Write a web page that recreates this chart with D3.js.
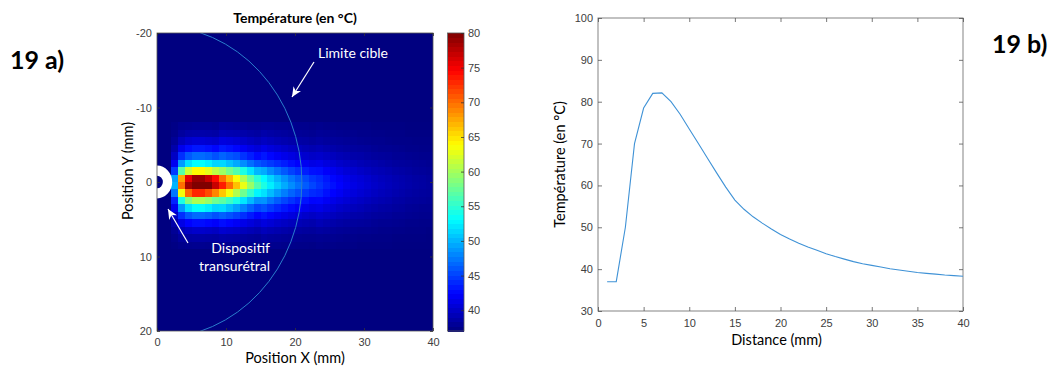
<!DOCTYPE html>
<html><head><meta charset="utf-8">
<script src="https://cdn.jsdelivr.net/npm/d3@7"></script>
<style>body{margin:0;background:#fff} svg{display:block}</style>
</head><body><svg id="c" width="1053" height="369"></svg>
<script>
// ---------- data ----------
const xTicksA = [0, 10, 20, 30, 40];
const yTicksA = [-20, -10, 0, 10, 20];
const cbTicks = [40, 45, 50, 55, 60, 65, 70, 75, 80];
const colorDomain = [37, 80];
const background = 37;
const firstRow = -8;           // y index (mm) of first stored row; columns are x = 0..39 mm
const heatRows = [
 [37,37,37.3,37.7,37.8,37.9,37.9,37.9,37.8,38.2,38.1,38.0,37.9,37.8,37.8,37.9,37.9,37.8,37.8,37.7,37.6,37.6,37.5,37.6,37.5,37.5,37.4,37.4,37.3,37.3,37.3,37.2,37.2,37.2,37.2,37.2,37.1,37.1,37.1,37.1],
 [37,37,37.5,38.3,38.7,38.8,38.8,38.7,38.6,39.2,39.1,39.0,38.8,38.6,38.4,38.8,38.6,38.4,38.3,38.1,38.0,37.9,37.8,38.0,37.9,37.8,37.7,37.6,37.6,37.5,37.5,37.4,37.4,37.3,37.3,37.3,37.2,37.2,37.2,37.2],
 [37,37,38.0,39.6,40.3,40.6,40.6,40.4,40.2,41.0,40.8,40.5,40.1,39.7,39.4,39.8,39.5,39.2,39.0,38.8,38.6,38.5,38.3,38.5,38.3,38.2,38.1,38.0,37.9,37.8,37.7,37.6,37.6,37.5,37.4,37.4,37.4,37.3,37.3,37.3],
 [37,37,38.8,41.6,42.8,43.3,43.3,43.0,42.6,43.4,43.0,42.6,41.9,41.3,40.8,41.4,40.9,40.5,40.2,39.8,39.6,39.3,39.1,39.3,39.0,38.8,38.6,38.4,38.3,38.2,38.1,37.9,37.8,37.8,37.7,37.6,37.5,37.5,37.4,37.4],
 [37,37,39.9,44.3,46.1,46.9,46.9,46.5,45.8,46.6,46.0,45.6,44.5,43.6,42.7,43.3,42.6,42.0,41.5,41.1,40.7,40.3,40.0,40.2,39.9,39.6,39.3,39.1,38.8,38.7,38.5,38.3,38.2,38.1,37.9,37.9,37.8,37.7,37.6,37.6],
 [37,37,41.7,48.9,51.9,53.2,53.2,52.5,51.4,51.5,50.5,49.5,48.3,47.0,45.9,45.3,44.7,44.1,43.5,42.9,42.3,41.8,41.3,41.5,41.0,40.6,40.2,39.9,39.6,39.3,39.1,38.9,38.7,38.5,38.3,38.2,38.1,38.0,37.9,37.8],
 [37,37,44.8,56.8,61.9,64.0,64.0,62.8,61.0,59.8,58.0,56.5,54.2,52.0,50.1,49.6,48.2,47.1,46.1,45.1,44.3,43.6,43.0,42.9,42.2,41.7,41.2,40.7,40.4,40.0,39.7,39.4,39.2,39.0,38.7,38.6,38.4,38.2,38.1,38.0],
 [37,37,49.1,67.7,75.6,78.9,78.9,77.0,74.2,69.9,66.7,63.6,60.4,57.4,54.8,53.1,51.4,49.9,48.6,47.4,46.4,45.5,44.6,44.1,43.3,42.6,42.1,41.5,41.0,40.7,40.3,39.9,39.6,39.4,39.1,38.9,38.7,38.5,38.4,38.2],
 [37,37,50,70,78.5,82,82.1,80,77,73.5,70,66.5,63,59.6,56.5,54.3,52.5,51,49.6,48.3,47.2,46.2,45.3,44.5,43.7,43,42.4,41.8,41.3,40.9,40.5,40.1,39.8,39.5,39.2,39,38.8,38.6,38.45,38.3],
 [37,37,47.4,63.4,70.2,73.0,73.0,71.4,69.0,66.2,63.4,60.6,57.8,55.2,52.8,51.9,50.3,48.9,47.7,46.6,45.7,44.8,44.1,43.8,43.0,42.4,41.9,41.3,40.9,40.5,40.2,39.8,39.5,39.3,39.0,38.8,38.6,38.4,38.3,38.2],
 [37,37,43.8,54.2,58.6,60.4,60.4,59.4,57.8,57.0,55.6,54.1,52.1,50.2,48.5,48.6,47.3,46.2,45.3,44.5,43.7,43.1,42.5,42.6,42.0,41.4,41.0,40.6,40.2,39.9,39.6,39.3,39.1,38.9,38.6,38.5,38.3,38.2,38.1,38.0],
 [37,37,41.7,48.9,51.9,53.2,53.2,52.5,51.4,51.6,50.4,49.2,47.9,46.5,45.3,45.8,44.8,44.0,43.3,42.7,42.1,41.6,41.2,41.4,40.9,40.5,40.1,39.8,39.5,39.3,39.0,38.8,38.6,38.5,38.3,38.2,38.0,37.9,37.8,37.8],
 [37,37,39.9,44.3,46.1,46.9,46.9,46.5,45.8,46.4,45.8,45.1,44.3,43.4,42.5,43.1,42.5,41.9,41.4,41.0,40.6,40.2,39.9,40.2,39.9,39.6,39.3,39.1,38.8,38.7,38.5,38.3,38.2,38.1,37.9,37.9,37.8,37.7,37.6,37.6],
 [37,37,38.7,41.3,42.4,42.9,42.9,42.6,42.2,42.9,42.5,42.0,41.4,40.9,40.4,41.0,40.6,40.2,39.9,39.6,39.3,39.1,38.9,39.3,39.0,38.8,38.6,38.4,38.3,38.2,38.1,37.9,37.8,37.8,37.7,37.6,37.5,37.5,37.4,37.4],
 [37,37,37.9,39.3,39.9,40.2,40.2,40.0,39.8,40.4,40.2,40.0,39.6,39.3,39.0,39.5,39.2,39.0,38.8,38.6,38.4,38.3,38.2,38.4,38.3,38.1,38.0,37.9,37.8,37.7,37.7,37.6,37.5,37.5,37.4,37.4,37.3,37.3,37.3,37.2],
 [37,37,37.5,38.2,38.5,38.6,38.6,38.5,38.4,38.7,38.6,38.5,38.3,38.1,38.0,38.4,38.2,38.1,38.0,37.9,37.8,37.7,37.7,37.8,37.7,37.7,37.6,37.5,37.5,37.4,37.4,37.3,37.3,37.3,37.2,37.2,37.2,37.2,37.2,37.1],
 [37,37,37.2,37.5,37.6,37.7,37.7,37.6,37.6,37.8,37.8,37.7,37.7,37.6,37.5,37.7,37.6,37.6,37.5,37.5,37.4,37.4,37.3,37.5,37.4,37.4,37.3,37.3,37.3,37.2,37.2,37.2,37.2,37.2,37.1,37.1,37.1,37.1,37.1,37.1]
];
const targetRadius = 21;       // mm, "Limite cible"
const deviceOuter = 2.2, deviceInner = 0.85;   // mm

const distance = [1,2,3,4,5,6,7,8,9,10,11,12,13,14,15,16,17,18,19,20,21,22,23,24,25,26,27,28,29,30,31,32,33,34,35,36,37,38,39,40];
const temperature = [37,37,50,70,78.5,82,82.1,80,77,73.5,70,66.5,63,59.6,56.5,54.3,52.5,51,49.6,48.3,47.2,46.2,45.3,44.5,43.7,43,42.4,41.8,41.3,40.9,40.5,40.1,39.8,39.5,39.2,39,38.8,38.6,38.45,38.3];
const xTicksB = [0,5,10,15,20,25,30,35,40];
const yTicksB = [30,40,50,60,70,80,90,100];

// ---------- helpers ----------
function jet(t){
  t = Math.max(0, Math.min(1, t));
  const c = v => Math.round(255*Math.max(0, Math.min(1, v)));
  return `rgb(${c(1.5-Math.abs(4*t-3))},${c(1.5-Math.abs(4*t-2))},${c(1.5-Math.abs(4*t-1))})`;
}
const tNorm = d3.scaleLinear().domain(colorDomain).range([0,1]).clamp(true);
const color = v => jet(tNorm(v));
const fmt = d => String(d);
const tickCol = "#404040", axisCol = "#555";
const labelFont = "Lato, 'Open Sans', sans-serif";
const tickFont = "'Liberation Sans', Arial, sans-serif";

const svg = d3.select("#c");
const defs = svg.append("defs");

// ---------- chart a: heatmap ----------
const A = {l:157, r:433, t:33, b:331};
const xA = d3.scaleLinear().domain([0,40]).range([A.l, A.r]);
const yA = d3.scaleLinear().domain([-20,20]).range([A.t, A.b]);

defs.append("clipPath").attr("id","clipA").append("rect")
  .attr("x",A.l).attr("y",A.t).attr("width",A.r-A.l).attr("height",A.b-A.t);

const cells = [];
for (let r = -20; r < 20; r++) {
  const row = heatRows[r - firstRow];
  for (let c = 0; c < 40; c++) cells.push({r, c, v: row ? row[c] : background});
}
const gA = svg.append("g").attr("clip-path","url(#clipA)");
gA.selectAll("rect.cell").data(cells).join("rect")
  .attr("x", d => xA(d.c)).attr("y", d => yA(d.r))
  .attr("width", d => xA(d.c+1)-xA(d.c)+0.4).attr("height", d => yA(d.r+1)-yA(d.r)+0.4)
  .attr("fill", d => color(d.v)).attr("shape-rendering","crispEdges");

// target limit circle
gA.append("ellipse").attr("cx", xA(0)).attr("cy", yA(0))
  .attr("rx", xA(targetRadius)-xA(0)).attr("ry", yA(targetRadius)-yA(0))
  .attr("fill","none").attr("stroke","#2a7dcc").attr("stroke-width",1);

// transurethral device (white ring)
function ellPath(cx, cy, rx, ry){
  return `M${cx-rx},${cy}a${rx},${ry} 0 1,0 ${2*rx},0a${rx},${ry} 0 1,0 ${-2*rx},0z`;
}
gA.append("path")
  .attr("d", ellPath(xA(0), yA(0), xA(deviceOuter)-xA(0), yA(deviceOuter)-yA(0)) +
             ellPath(xA(0), yA(0), xA(deviceInner)-xA(0), yA(deviceInner)-yA(0)))
  .attr("fill","#fff").attr("fill-rule","evenodd");

// axes A
const axA = svg.append("g").attr("font-family", tickFont);
axA.append("rect").attr("x",A.l).attr("y",A.t).attr("width",A.r-A.l).attr("height",A.b-A.t)
  .attr("fill","none").attr("stroke",axisCol).attr("stroke-width",0.8);
function styleAxis(g, size){
  g.select(".domain").remove();
  g.selectAll(".tick line").attr("stroke","#333").attr("stroke-width",0.8);
  g.selectAll(".tick text").attr("fill",tickCol).attr("font-size",size).attr("font-family",tickFont);
}
axA.append("g").attr("transform",`translate(0,${A.b})`)
  .call(d3.axisBottom(xA).tickValues(xTicksA).tickFormat(fmt).tickSizeInner(-3).tickSizeOuter(0).tickPadding(7))
  .call(g => styleAxis(g, 11));
axA.append("g").attr("transform",`translate(0,${A.t})`)
  .call(d3.axisTop(xA).tickValues(xTicksA).tickFormat("").tickSizeInner(-3).tickSizeOuter(0))
  .call(g => styleAxis(g, 11));
axA.append("g").attr("transform",`translate(${A.l},0)`)
  .call(d3.axisLeft(yA).tickValues(yTicksA).tickFormat(fmt).tickSizeInner(-3).tickSizeOuter(0).tickPadding(5))
  .call(g => styleAxis(g, 11));
axA.append("g").attr("transform",`translate(${A.r},0)`)
  .call(d3.axisRight(yA).tickValues(yTicksA).tickFormat("").tickSizeInner(-3).tickSizeOuter(0))
  .call(g => styleAxis(g, 11));

// colorbar
const CB = {l:447.5, r:464, t:33, b:331};
const yCB = d3.scaleLinear().domain(colorDomain).range([CB.b, CB.t]);
const cbSteps = d3.range(colorDomain[0], colorDomain[1], 43/64);
svg.append("g").selectAll("rect").data(cbSteps).join("rect")
  .attr("x", CB.l).attr("width", CB.r-CB.l)
  .attr("y", d => yCB(Math.min(d + 43/64, colorDomain[1]))).attr("height", d => yCB(d) - yCB(Math.min(d+43/64, colorDomain[1])) + 0.5)
  .attr("fill", d => color(d + 43/128)).attr("shape-rendering","crispEdges");
svg.append("rect").attr("x",CB.l).attr("y",CB.t).attr("width",CB.r-CB.l).attr("height",CB.b-CB.t)
  .attr("fill","none").attr("stroke",axisCol).attr("stroke-width",0.8);
svg.append("g").attr("transform",`translate(${CB.r},0)`)
  .call(d3.axisRight(yCB).tickValues(cbTicks).tickFormat(fmt).tickSizeInner(-3).tickSizeOuter(0).tickPadding(4))
  .call(g => styleAxis(g, 11));

// titles & annotations A
svg.append("text").attr("x", (A.l+A.r)/2).attr("y", 23).attr("text-anchor","middle")
  .attr("font-family", labelFont).attr("font-weight","bold").attr("font-size",14).text("Température (en °C)");
svg.append("text").attr("x", (A.l+A.r)/2).attr("y", 363).attr("text-anchor","middle")
  .attr("font-family", labelFont).attr("font-size",14.5).text("Position X (mm)");
svg.append("text").attr("transform",`translate(133,171) rotate(-90)`).attr("text-anchor","middle")
  .attr("font-family", labelFont).attr("font-size",14.5).text("Position Y (mm)");

defs.append("marker").attr("id","arr").attr("viewBox","0 0 10 10").attr("refX",10).attr("refY",5)
  .attr("markerWidth",10).attr("markerHeight",10).attr("markerUnits","userSpaceOnUse").attr("orient","auto")
  .append("path").attr("d","M0,0.5L10,5L0,9.5L3,5z").attr("fill","#fff");

svg.append("text").attr("x",318).attr("y",58).attr("fill","#fff")
  .attr("font-family", labelFont).attr("font-size",14).text("Limite cible");
svg.append("line").attr("x1",314).attr("y1",62).attr("x2",292).attr("y2",97)
  .attr("stroke","#fff").attr("stroke-width",1.2).attr("marker-end","url(#arr)");
svg.append("text").attr("x",270).attr("y",253).attr("fill","#fff").attr("text-anchor","end")
  .attr("font-family", labelFont).attr("font-size",14).text("Dispositif");
svg.append("text").attr("x",270).attr("y",271).attr("fill","#fff").attr("text-anchor","end")
  .attr("font-family", labelFont).attr("font-size",14).text("transurétral");
svg.append("line").attr("x1",188).attr("y1",243).attr("x2",168).attr("y2",209)
  .attr("stroke","#fff").attr("stroke-width",1.2).attr("marker-end","url(#arr)");

svg.append("text").attr("x",10).attr("y",69).attr("font-family", labelFont).attr("font-weight","bold")
  .attr("font-size",25).text("19 a)");

// ---------- chart b: line ----------
const B = {l:598, r:963, t:18, b:311};
const xB = d3.scaleLinear().domain([0,40]).range([B.l, B.r]);
const yB = d3.scaleLinear().domain([30,100]).range([B.b, B.t]);
const gB = svg.append("g");
gB.append("rect").attr("x",B.l).attr("y",B.t).attr("width",B.r-B.l).attr("height",B.b-B.t)
  .attr("fill","none").attr("stroke","#777").attr("stroke-width",0.9);
gB.append("g").attr("transform",`translate(0,${B.b})`)
  .call(d3.axisBottom(xB).tickValues(xTicksB).tickFormat(fmt).tickSizeInner(-4).tickSizeOuter(0).tickPadding(8))
  .call(g => styleAxis(g, 11));
gB.append("g").attr("transform",`translate(0,${B.t})`)
  .call(d3.axisTop(xB).tickValues(xTicksB).tickFormat("").tickSizeInner(-4).tickSizeOuter(0))
  .call(g => styleAxis(g, 11));
gB.append("g").attr("transform",`translate(${B.l},0)`)
  .call(d3.axisLeft(yB).tickValues(yTicksB).tickFormat(fmt).tickSizeInner(-4).tickSizeOuter(0).tickPadding(5))
  .call(g => styleAxis(g, 11));
gB.append("g").attr("transform",`translate(${B.r},0)`)
  .call(d3.axisRight(yB).tickValues(yTicksB).tickFormat("").tickSizeInner(-4).tickSizeOuter(0))
  .call(g => styleAxis(g, 11));
gB.selectAll(".tick line").attr("stroke","#555");

const pts = distance.map((d,i) => [d, temperature[i]]);
gB.append("path").datum(pts)
  .attr("d", d3.line().x(d => xB(d[0])).y(d => yB(d[1])))
  .attr("fill","none").attr("stroke","#3f92d6").attr("stroke-width",1.1);

svg.append("text").attr("x", (B.l+B.r)/2 - 4).attr("y", 345).attr("text-anchor","middle")
  .attr("font-family", labelFont).attr("font-size",14.5).text("Distance (mm)");
svg.append("text").attr("transform",`translate(565,${(B.t+B.b)/2}) rotate(-90)`).attr("text-anchor","middle")
  .attr("font-family", labelFont).attr("font-size",14.5).text("Température (en °C)");
svg.append("text").attr("x",992).attr("y",53).attr("font-family", labelFont).attr("font-weight","bold")
  .attr("font-size",25).text("19 b)");
</script>
</body></html>
